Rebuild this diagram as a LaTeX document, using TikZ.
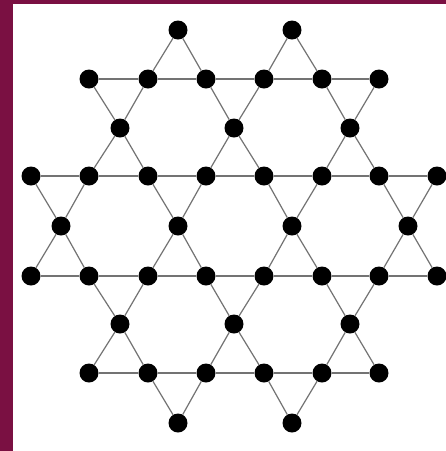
\documentclass[tikz,border=0pt]{standalone}
\begin{document}
\begin{tikzpicture}[x=1pt,y=-1pt,
  site/.style={circle,fill=black,inner sep=0pt,minimum size=19pt},
  bond/.style={draw=black!55,line width=1.2pt}]
\definecolor{frame}{HTML}{7A1042}
\useasboundingbox (0,0) rectangle (446,451);
\fill[frame] (0,0) rectangle (446,451);
\fill[white] (13,4) rectangle (446,451);
% sites
\foreach \x [count=\i] in {178,292} \node[site] (a\i) at (\x,30) {};
\foreach \x [count=\i] in {89,148,206,264,322,379} \node[site] (b\i) at (\x,79) {};
\foreach \x [count=\i] in {120,234,350} \node[site] (c\i) at (\x,128) {};
\foreach \x [count=\i] in {31,89,148,206,264,322,379,437} \node[site] (d\i) at (\x,176) {};
\foreach \x [count=\i] in {61,178,292,408} \node[site] (e\i) at (\x,226) {};
\foreach \x [count=\i] in {31,89,148,206,264,322,379,437} \node[site] (f\i) at (\x,276) {};
\foreach \x [count=\i] in {120,234,350} \node[site] (g\i) at (\x,324) {};
\foreach \x [count=\i] in {89,148,206,264,322,379} \node[site] (h\i) at (\x,373) {};
\foreach \x [count=\i] in {178,292} \node[site] (i\i) at (\x,423) {};
% bonds
\begin{scope}[on background layer/.try]
\foreach \i [evaluate=\i as \j using int(\i+1)] in {1,...,5} {
  \draw[bond] (b\i) -- (b\j);
  \draw[bond] (h\i) -- (h\j);
}
\foreach \i [evaluate=\i as \j using int(\i+1)] in {1,...,7} {
  \draw[bond] (d\i) -- (d\j);
  \draw[bond] (f\i) -- (f\j);
}
\draw[bond] (a1) -- (b2); \draw[bond] (a1) -- (b3);
\draw[bond] (a2) -- (b4); \draw[bond] (a2) -- (b5);
\draw[bond] (i1) -- (h2); \draw[bond] (i1) -- (h3);
\draw[bond] (i2) -- (h4); \draw[bond] (i2) -- (h5);
\foreach \k/\p/\q/\r/\s in {1/1/2/2/3, 2/3/4/4/5, 3/5/6/6/7} {
  \draw[bond] (c\k) -- (b\p); \draw[bond] (c\k) -- (b\q);
  \draw[bond] (c\k) -- (d\r); \draw[bond] (c\k) -- (d\s);
  \draw[bond] (g\k) -- (f\r); \draw[bond] (g\k) -- (f\s);
  \draw[bond] (g\k) -- (h\p); \draw[bond] (g\k) -- (h\q);
}
\foreach \k/\p/\q in {1/1/2, 2/3/4, 3/5/6, 4/7/8} {
  \draw[bond] (e\k) -- (d\p); \draw[bond] (e\k) -- (d\q);
  \draw[bond] (e\k) -- (f\p); \draw[bond] (e\k) -- (f\q);
}
\end{scope}
\end{tikzpicture}
\end{document}
